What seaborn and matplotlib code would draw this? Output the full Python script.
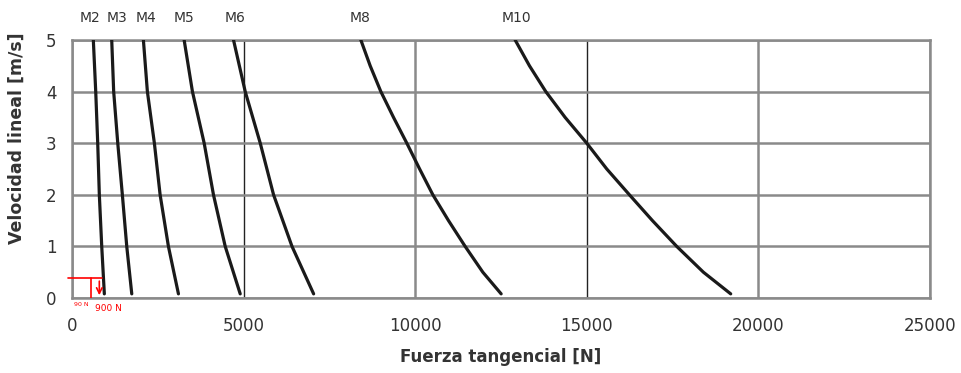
import pandas as pd
import matplotlib.pyplot as plt
import seaborn as sns

# Curve data: force [N] at each speed [m/s]
velocidad = [5, 4, 3, 2, 1, 0.08]
velocidad_fina = [5, 4.5, 4, 3.5, 3, 2.5, 2, 1.5, 1, 0.5, 0.08]

motores = ["M2", "M3", "M4", "M5", "M6", "M8", "M10"]
fuerza_m2 = [622, 692, 750, 797, 867, 943]
fuerza_m3 = [1158, 1215, 1334, 1468, 1596, 1742]
fuerza_m4 = [2081, 2197, 2401, 2568, 2810, 3102]
fuerza_m5 = [3268, 3510, 3852, 4123, 4465, 4902]
fuerza_m6 = [4707, 5048, 5486, 5874, 6411, 7041]
fuerza_m8 = [8417, 8689, 9000, 9369, 9757, 10130, 10515, 10971, 11456, 11971, 12505]
fuerza_m10 = [12913, 13330, 13806, 14369, 15000, 15583, 16243, 16913, 17621, 18398, 19194]
fuerzas = [fuerza_m2, fuerza_m3, fuerza_m4, fuerza_m5, fuerza_m6, fuerza_m8, fuerza_m10]

# where the motor names sit above the plot
etiqueta_x = [525, 1313, 2159, 3268, 4756, 8404, 12956]

x_ticks = [0, 5000, 10000, 15000, 20000, 25000]
y_ticks = [0, 1, 2, 3, 4, 5]

# red marker in the lower left corner
rojo_y = 0.38
rojo_x0, rojo_x1 = -120, 870
rojo_vline = 546
rojo_flecha = 797

rows = []
for m, f in zip(motores, fuerzas):
    vel = velocidad if len(f) == len(velocidad) else velocidad_fina
    for v, fx in zip(vel, f):
        rows.append({"motor": m, "fuerza": fx, "velocidad": v})
df = pd.DataFrame(rows)

sns.set_style("white")
plt.rcParams["font.family"] = ["DejaVu Sans"]

fig = plt.figure(figsize=(9.61, 3.73), dpi=100)
ax = fig.add_axes([0.0749, 0.2011, 0.8928, 0.6917])

sns.lineplot(data=df, x="fuerza", y="velocidad", hue="motor", sort=False,
             palette=["#1a1a1a"] * len(motores), linewidth=2.3, legend=False,
             ax=ax, zorder=3)

ax.set_xlim(0, 25000)
ax.set_ylim(0, 5)
ax.set_xticks(x_ticks)
ax.set_yticks(y_ticks)
ax.tick_params(axis="both", labelsize=12, labelcolor="#333333", colors="#888888",
               length=3, width=1, direction="out")
ax.tick_params(axis="y", pad=8)
ax.tick_params(axis="x", length=0, pad=14)

ax.grid(True, color="#8a8a8a", linewidth=1.8)
for i, gl in enumerate(ax.get_xgridlines()):
    if x_ticks[i] in (5000, 15000):
        gl.set_color("#222222")
        gl.set_linewidth(1.0)
for s in ax.spines.values():
    s.set_color("#8a8a8a")
    s.set_linewidth(1.8)

for m, lx in zip(motores, etiqueta_x):
    ax.text(lx, 5.42, m, ha="center", va="center", fontsize=10,
            color="#333333", clip_on=False)

ax.set_xlabel("Fuerza tangencial [N]", fontsize=12, fontweight="bold",
              color="#333333", labelpad=9)
ax.set_ylabel("Velocidad lineal [m/s]", fontsize=12.5, fontweight="bold",
              color="#333333")
ax.yaxis.set_label_coords(-0.054, 0.62)

ax.plot([rojo_x0, rojo_x1], [rojo_y, rojo_y], color="red", lw=1.2, clip_on=False, zorder=4)
ax.plot([rojo_vline, rojo_vline], [rojo_y, 0], color="red", lw=1.2, zorder=4)
ax.annotate("", xy=(rojo_flecha, 0), xytext=(rojo_flecha, rojo_y),
            arrowprops=dict(arrowstyle="->", color="red", lw=1.2), zorder=4)
ax.text(50, -0.08, "90 N", fontsize=4.5, color="red", va="top", ha="left")
ax.text(680, -0.12, "900 N", fontsize=6.5, color="red", va="top", ha="left")

fig.savefig("out.png", dpi=100)
plt.close()
